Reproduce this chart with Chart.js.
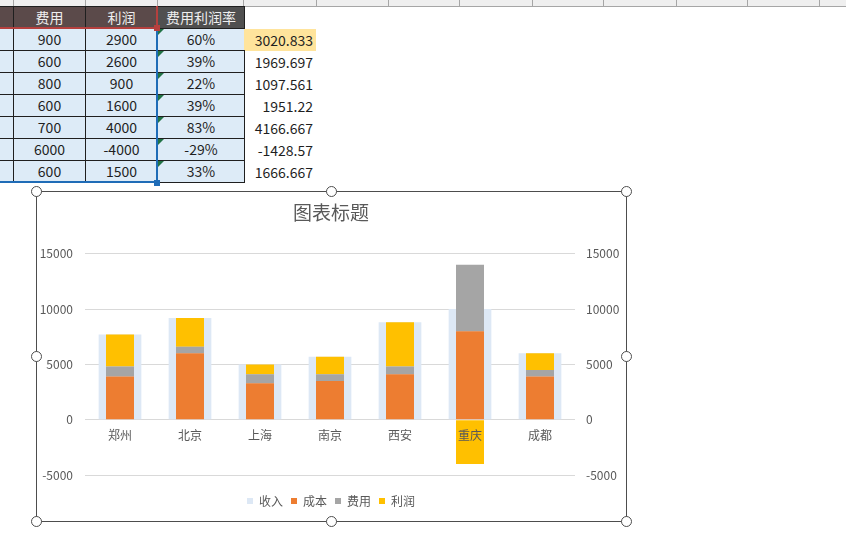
<!DOCTYPE html>
<html>
<head>
<meta charset="utf-8">
<script src="https://cdn.jsdelivr.net/npm/chart.js@4.4.1/dist/chart.umd.min.js"></script>
<style>
  * { box-sizing: border-box; }
  body {
    margin: 0;
    width: 846px;
    height: 552px;
    position: relative;
    overflow: hidden;
    background: #fff;
    font-family: "Noto Sans CJK SC", "Noto Sans", sans-serif;
  }
  #colbar {
    position: absolute; left: 0; top: 0; width: 846px; height: 7px;
    background: #efefef; border-bottom: 1px solid #a6a6a6;
  }
  .colsep { position: absolute; top: 0; width: 1px; height: 7px; background: #a6a6a6; }
  .cell {
    position: absolute; height: 23px;
    border: 1px solid #1f1f1f;
    font-size: 14px; line-height: 21px; text-align: center;
    color: #1f1f1f; background: #ddebf7; white-space: nowrap; overflow: hidden;
  }
  .head { background: #5b4a4a; color: #eeeeee; }
  .head.dark { background: #505050; }
  .num {
    position: absolute; height: 22px; width: 72px; left: 244px;
    font-size: 14px; line-height: 22px; text-align: right; padding-right: 3px;
    color: #1f1f1f; white-space: nowrap;
  }
  .tri {
    position: absolute; width: 0; height: 0;
    border-top: 6px solid #217346; border-right: 6px solid transparent;
  }
  .line { position: absolute; }
  #chartBox { position: absolute; left: 37px; top: 192px; width: 588px; height: 325px; }
  #frame {
    position: absolute; left: 36px; top: 191px; width: 591px; height: 331px;
    border: 1.5px solid #4d4d4d; pointer-events: none;
  }
  .handle {
    position: absolute; width: 11px; height: 11px; border-radius: 50%;
    border: 1.5px solid #4d4d4d; background: #fff;
  }
</style>
</head>
<body>
<div id="colbar"></div>
<div id="sheet"></div>
<div id="chartBox"><canvas id="chart" width="588" height="325"></canvas></div>
<div id="frame"></div>

<script>
  // data
  const cities = ["郑州", "北京", "上海", "南京", "西安", "重庆", "成都"];
  const income = [7700, 9200, 5000, 5700, 8800, 10000, 6000];
  const cost = [3900, 6000, 3300, 3500, 4100, 8000, 3900];
  const fee = [900, 600, 800, 600, 700, 6000, 600];
  const profit = [2900, 2600, 900, 1600, 4000, -4000, 1500];
  const rateLabels = ["60%", "39%", "22%", "39%", "83%", "-29%", "33%"];
  const extraValues = ["3020.833", "1969.697", "1097.561", "1951.22", "4166.667", "-1428.57", "1666.667"];
  const yMin = -5000, yMax = 15000, yStep = 5000;

  const textGray = "#595959";

  // spreadsheet part
  (function drawSheet() {
    const sheet = document.getElementById("sheet");
    const colSeps = [13, 85, 157, 243, 316, 388, 459, 532, 603, 676, 747, 819];
    colSeps.forEach((x) => {
      const s = document.createElement("div");
      s.className = "colsep";
      s.style.left = x + "px";
      sheet.appendChild(s);
    });

    function cell(x, y, w, text, cls) {
      const c = document.createElement("div");
      c.className = "cell" + (cls ? " " + cls : "");
      c.style.left = x + "px";
      c.style.top = y + "px";
      c.style.width = w + 1 + "px";
      c.textContent = text;
      sheet.appendChild(c);
      return c;
    }

    const cols = [[-1, 14], [13, 72], [85, 72], [157, 87]];
    const headers = ["", "费用", "利润", "费用利润率"];
    cols.forEach(([x, w], i) => cell(x, 6, w, headers[i], i === 3 ? "head dark" : "head"));

    for (let r = 0; r < cities.length; r++) {
      const y = 28 + r * 22;
      cell(-1, y, 14, "");
      cell(13, y, 72, fee[r]);
      cell(85, y, 72, profit[r]);
      cell(157, y, 87, rateLabels[r]);
      const t = document.createElement("div");
      t.className = "tri";
      t.style.left = "158px";
      t.style.top = y + 1 + "px";
      sheet.appendChild(t);

      const n = document.createElement("div");
      n.className = "num";
      n.style.top = y + 1 + "px";
      if (r === 0) n.style.background = "#ffe49c";
      n.textContent = extraValues[r];
      sheet.appendChild(n);
    }

    function line(x, y, w, h, color) {
      const l = document.createElement("div");
      l.className = "line";
      Object.assign(l.style, { left: x + "px", top: y + "px", width: w + "px", height: h + "px", background: color });
      sheet.appendChild(l);
    }
    const red = "#b5403e", blue = "#1f6cb7";
    line(0, 27, 158, 2, red);
    line(156, 6, 2, 22, red);
    line(156, 29, 2, 154, blue);
    line(0, 181, 158, 2, blue);
    line(154, 25, 6, 6, red);
    line(154, 180, 6, 6, blue);
  })();

  // chart frame handles
  [[36, 191], [331, 191], [626, 191], [36, 356], [626, 356], [36, 521], [331, 521], [626, 521]].forEach(([x, y]) => {
    const h = document.createElement("div");
    h.className = "handle";
    h.style.left = x - 5.5 + "px";
    h.style.top = y - 5.5 + "px";
    document.body.appendChild(h);
  });

  Chart.defaults.font.family = '"Noto Sans CJK SC", "Noto Sans", sans-serif';
  Chart.defaults.color = textGray;

  const barBase = { xAxisID: "x", yAxisID: "y", grouped: false, categoryPercentage: 1, borderWidth: 0 };

  const ctx = document.getElementById("chart").getContext("2d");
  const myChart = new Chart(ctx, {
    type: "bar",
    data: {
      labels: cities,
      datasets: [
        { ...barBase, label: "收入", data: income, backgroundColor: "#dde8f5", stack: "income", order: 1, barPercentage: 0.61 },
        { ...barBase, label: "成本", data: cost, backgroundColor: "#ed7d31", stack: "main", order: 0, barPercentage: 0.4 },
        { ...barBase, label: "费用", data: fee, backgroundColor: "#a5a5a5", stack: "main", order: 0, barPercentage: 0.4 },
        { ...barBase, label: "利润", data: profit, backgroundColor: "#ffc000", stack: "main", order: 0, barPercentage: 0.4 },
      ],
    },
    options: {
      responsive: false,
      animation: false,
      layout: { padding: 0 },
      scales: {
        x: {
          position: { y: 0 },
          offset: true,
          grid: { display: false },
          border: { display: false },
          ticks: { color: textGray, font: { size: 12 }, padding: 1, z: 1 },
        },
        xs: {
          type: "category",
          position: "bottom",
          grid: { display: false },
          border: { display: false },
          ticks: { display: false },
          afterFit(scale) { scale.height = 12; },
        },
        y: {
          stacked: true,
          min: yMin,
          max: yMax,
          grid: { color: "#d9d9d9", drawTicks: false },
          border: { display: false },
          ticks: { stepSize: yStep, padding: 12, color: textGray, font: { size: 12 }, callback: (v) => String(v) },
          afterFit(scale) { scale.width = 48; },
        },
        y1: {
          position: "right",
          min: yMin,
          max: yMax,
          grid: { display: false, drawTicks: false },
          border: { display: false },
          ticks: { stepSize: yStep, padding: 11, color: textGray, font: { size: 12 }, callback: (v) => String(v) },
          afterFit(scale) { scale.width = 50; },
        },
      },
      plugins: {
        title: {
          display: true,
          text: "图表标题",
          color: textGray,
          font: { size: 19, weight: "normal" },
          padding: { top: 9, bottom: 30 },
        },
        legend: {
          position: "bottom",
          labels: {
            boxWidth: 6,
            boxHeight: 6,
            padding: 8,
            color: textGray,
            font: { size: 12 },
            sort: (a, b) => a.datasetIndex - b.datasetIndex,
          },
        },
        tooltip: { enabled: false },
      },
    },
  });
</script>
</body>
</html>
